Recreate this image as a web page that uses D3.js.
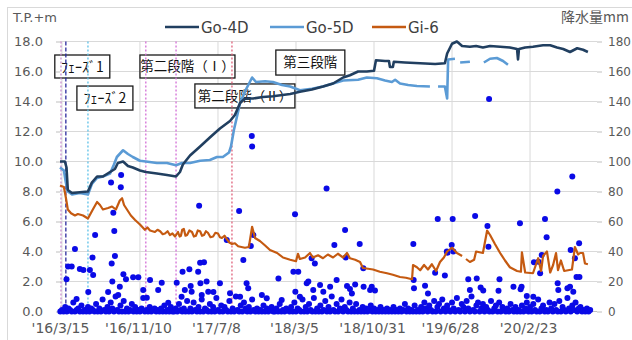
<!DOCTYPE html>
<html><head><meta charset="utf-8">
<script src="https://cdn.jsdelivr.net/npm/d3@7/dist/d3.min.js"></script>
<style>body{margin:0;background:#fff;} svg{display:block;}</style>
</head><body><svg id="c" width="632" height="340"></svg>
<script>
// ---------- DATA ----------
const startDate = "2016-03-15"; // day 0 of the day counts below
const xTickDates = ["2016-03-15","2016-11-10","2017-07-08","2018-03-05","2018-10-31","2019-06-28","2020-02-23"];
const xTickLabels = ["'16/3/15","'16/11/10","'17/7/8","'18/3/5","'18/10/31","'19/6/28","'20/2/23"];
const leftTicks = [0,2,4,6,8,10,12,14,16,18];
const rightTicks = [0,20,40,60,80,100,120,140,160,180];
const seriesNames = ["Go-4D","Go-5D","Gi-6"];

// [day since startDate, water level T.P.+m]
const go4d = [[-6,10.0],[9,10.0],[14,9.6],[18,8.1],[31,7.9],[55,7.95],[80,8.0],[92,8.6],[108,9.0],[126,9.0],[148,9.3],[163,9.5],[172,9.9],[188,10.0],[203,9.7],[218,9.6],[240,9.4],[258,9.3],[292,9.2],[323,9.1],[351,9.0],[363,9.3],[372,9.8],[394,10.4],[425,11.0],[455,11.6],[486,12.2],[517,12.7],[532,13.1],[548,13.9],[563,14.2],[588,14.2],[618,14.3],[649,14.35],[702,14.5],[732,14.65],[769,14.8],[803,15.0],[834,15.2],[865,15.6],[886,15.75],[911,16.0],[938,16.0],[960,16.05],[966,16.75],[994,16.7],[1006,16.7],[1009,16.3],[1018,16.3],[1021,16.65],[1055,16.6],[1102,16.55],[1148,16.5],[1178,16.55],[1185,17.2],[1200,17.85],[1215,18.0],[1231,17.7],[1255,17.65],[1274,17.7],[1295,17.6],[1317,17.7],[1348,17.65],[1378,17.6],[1400,17.5],[1403,16.8],[1406,17.5],[1425,17.6],[1449,17.65],[1480,17.75],[1502,17.75],[1523,17.6],[1542,17.5],[1563,17.3],[1585,17.55],[1603,17.45],[1618,17.3]];
const go5d = [[-6,9.6],[6,9.4],[12,8.6],[18,8.0],[31,7.8],[55,7.9],[80,7.8],[92,8.5],[108,8.9],[126,9.0],[148,9.2],[160,9.8],[169,10.3],[188,10.75],[203,10.5],[218,10.3],[240,10.05],[258,10.0],[292,9.9],[323,9.9],[351,9.75],[369,9.9],[394,9.9],[425,10.05],[455,10.1],[477,10.3],[495,10.3],[514,10.6],[520,11.0],[529,12.1],[548,13.9],[566,14.8],[578,15.3],[585,15.6],[597,15.3],[625,15.35],[649,15.3],[677,15.1],[702,15.0],[732,14.75],[769,14.85],[803,15.0],[834,15.2],[865,15.4],[911,15.45],[938,15.6],[969,15.55],[994,15.4],[1015,15.3],[1025,15.45],[1040,15.2],[1065,15.1],[1092,15.03],[1132,15.0],[1140,null],[1157,15.0],[1178,15.0],[1185,14.2],[1188,16.8],[1209,16.85],[1216,null],[1225,16.6],[1255,16.65],[1270,null],[1298,16.6],[1317,16.85],[1338,16.9],[1357,16.7],[1372,16.45]];
const gi6 = [[-6,8.4],[6,8.3],[12,7.6],[18,6.8],[28,6.55],[40,6.4],[49,6.5],[65,6.4],[80,6.2],[95,6.8],[108,7.3],[117,7.1],[126,6.8],[142,6.9],[154,7.0],[166,6.8],[178,7.4],[185,7.55],[191,7.1],[200,6.8],[212,6.4],[225,6.1],[240,5.8],[255,5.45],[263,5.6],[271,5.4],[286,5.3],[294,5.45],[302,5.35],[310,5.15],[317,5.2],[325,5.35],[332,5.1],[340,5.2],[348,5.0],[357,5.3],[362,5.0],[366,5.05],[370,5.45],[375,5.5],[380,5.05],[385,5.1],[392,5.4],[400,5.3],[406,5.0],[412,5.05],[418,5.4],[425,5.35],[431,5.05],[437,5.1],[443,5.35],[449,5.25],[457,4.95],[465,5.0],[472,5.25],[480,5.2],[486,4.95],[492,4.9],[500,5.05],[508,4.8],[515,4.6],[523,4.5],[532,4.55],[542,4.35],[552,4.3],[563,4.25],[575,4.3],[585,5.65],[594,4.9],[609,4.7],[625,4.4],[640,4.1],[662,3.9],[680,3.6],[702,3.45],[720,3.35],[726,3.85],[732,3.5],[748,3.6],[763,3.9],[772,3.6],[788,3.75],[803,3.55],[818,3.8],[834,3.6],[849,3.85],[865,3.6],[877,3.9],[886,3.55],[902,3.45],[917,3.3],[926,2.9],[942,2.85],[957,2.8],[978,2.65],[1000,2.55],[1018,2.45],[1040,2.3],[1058,2.25],[1077,2.15],[1080,3.1],[1092,2.95],[1102,2.75],[1114,3.1],[1126,2.8],[1138,3.15],[1151,2.7],[1163,3.3],[1175,3.6],[1185,4.0],[1200,4.25],[1215,3.9],[1231,3.7],[1237,null],[1243,3.5],[1255,3.3],[1268,3.45],[1274,4.0],[1295,3.9],[1308,5.4],[1317,5.1],[1332,4.5],[1348,3.9],[1363,3.4],[1378,2.95],[1400,2.7],[1412,2.65],[1415,3.95],[1425,2.6],[1449,2.55],[1465,3.55],[1474,2.7],[1480,3.7],[1492,4.0],[1502,2.6],[1511,3.1],[1520,3.9],[1526,2.75],[1535,3.4],[1545,2.7],[1557,2.75],[1569,2.8],[1578,4.3],[1588,3.8],[1594,3.9],[1603,3.9],[1609,3.2],[1618,3.15]];

// rainfall (mm): notable days [day, mm]
const rainPeaks = [[14,21.5],[19,30],[30,30],[40,41.7],[45,8.3],[55,28.3],[66,27.7],[81,13],[86,27.7],[94,36],[96,24.3],[102,51],[142,13],[151,86],[153,32],[155,20],[158,65.9],[161,53.7],[163,37],[173,11],[178,16.5],[181,82.8],[182,91],[189,24.8],[197,21.5],[219,22.8],[235,22.8],[250,14.3],[261,9.2],[271,21],[296,14.3],[307,19.2],[327,5.9],[353,19.2],[368,9.9],[371,26.5],[378,14.3],[392,28.1],[396,17],[399,13.2],[419,26.5],[422,70.5],[425,32.5],[426,18.8],[430,11],[437,32.8],[445,20],[450,13.2],[466,13],[486,18.8],[507,47.7],[517,12.1],[545,67],[548,9.9],[558,34.3],[568,18.8],[573,15.5],[581,43.7],[584,117],[585,110],[589,51],[615,11],[630,8.8],[666,22],[676,7.7],[712,26.5],[717,64.8],[718,13.2],[727,26.5],[732,9.9],[753,18.8],[758,20],[768,35.5],[773,14.3],[778,32],[794,17.7],[804,13.2],[814,82],[825,16.5],[838,44.3],[845,21],[871,54.3],[873,36],[877,17],[886,15],[892,12],[902,18],[916,45],[927,28.8],[928,16.5],[948,14.3],[953,16.5],[963,14],[1081,45],[1082,21],[1083,15.5],[1117,17.2],[1126,12],[1148,25.9],[1156,61.7],[1178,24],[1184,40],[1186,39.2],[1199,44.3],[1202,61.7],[1204,40],[1250,21.5],[1255,14.3],[1271,63.7],[1276,22],[1288,16],[1296,14],[1309,57],[1312,43.2],[1314,141.7],[1343,13.9],[1346,21.5],[1389,16.5],[1409,58.8],[1411,14.8],[1414,16.5],[1430,10.3],[1450,9.9],[1452,32.8],[1466,33.2],[1471,25.5],[1476,37.7],[1486,61.7],[1491,49.5],[1524,80],[1525,18.8],[1527,14.3],[1555,15.5],[1563,16.5],[1565,41],[1570,90],[1573,13.2],[1578,35.5],[1583,23],[1591,45.5],[1592,23]];
// rainfall (mm): small daily amounts, one value every 5 days from day -5
const rainLowFirstDay = -5, rainLowStep = 5;
const rainLow = [0,1,0,3,0,2,1,0,6,0,1,2,0,4,0,1,0,3,0,2,
1,0,5,0,2,0,8,1,0,3,0,6,2,0,10,1,0,4,0,7,
0,2,0,1,5,0,3,0,1,0,2,9,0,1,0,3,0,1,2,0,
1,0,2,0,4,0,1,0,3,0,0,2,0,5,1,0,2,0,7,0,
2,0,6,1,0,3,0,8,0,2,1,0,5,0,3,0,9,1,0,4,
0,3,1,0,7,0,2,0,10,1,0,4,0,6,2,0,3,0,8,1,
0,2,0,1,0,4,0,2,0,1,3,0,0,2,0,5,0,1,0,2,
1,0,3,0,6,0,2,1,0,8,0,3,0,5,1,0,9,0,2,0,
4,0,1,7,0,3,0,10,1,0,5,0,2,8,0,3,1,0,6,0,
2,0,5,0,1,0,3,0,2,0,1,4,0,2,0,1,0,3,0,1,
0,2,0,1,0,3,0,1,0,2,0,1,5,0,2,0,1,0,4,0,
1,0,3,0,6,2,0,4,1,0,7,0,3,5,0,8,2,0,4,1,
0,6,2,0,9,1,0,5,3,0,7,2,0,10,1,0,4,6,0,2,
5,0,3,1,0,7,0,2,4,0,6,0,3,1,0,2,0,5,1,0,
3,0,1,0,4,0,2,6,0,3,0,5,1,0,8,0,2,4,0,1,
0,6,2,0,5,1,0,7,0,3,1,0,9,2,0,4,1,6,0,2,
3,0,1,0,2,0,1];

// construction phase markers
const phaseDays = [-3,12,80,258,351,523];
const phaseColors = ["#c98fd0","#2b2b9e","#5bc0e8","#d36fd6","#d36fd6","#e0607a"];
const phaseDash = ["2,2","4,2","2,2","2,2","2,2","2,2"];
// annotation boxes: label, anchor [day, level]
const boxLabels = ["ﾌｪｰｽﾞ1","ﾌｪｰｽﾞ2","第二段階（Ⅰ）","第二段階（Ⅱ）","第三段階"];
const boxAnchors = [[-21.5,17.1],[46,15.03],[240,17.1],[409,15.17],[658,17.43]];
const boxSizes = [[55,23],[56,24],[95,23],[100,24],[69,25]];

// ---------- CHART ----------
const svg = d3.select("#c");
const t0 = d3.utcParse("%Y-%m-%d")(startDate);
const dd = d => d3.utcDay.offset(t0, d);
const plot = {l:60, r:597, t:41.5, b:311.5};
const x = d3.scaleUtc().domain([dd(-6), dd(1646)]).range([plot.l, plot.r]);
const yL = d3.scaleLinear().domain([0,18]).range([plot.b, plot.t]);
const yR = d3.scaleLinear().domain([0,180]).range([plot.b, plot.t]);
const font = "'DejaVu Sans', sans-serif";
const tickDates = xTickDates.map(d3.utcParse("%Y-%m-%d"));

svg.append("rect").attr("width",632).attr("height",340).attr("fill","#fff");
svg.append("rect").attr("x",7.5).attr("y",7.5).attr("width",660).attr("height",360)
  .attr("fill","none").attr("stroke","#d9d9d9");

// gridlines
svg.append("g").selectAll("line").data(leftTicks.filter(d=>d>0)).join("line")
  .attr("x1",plot.l).attr("x2",plot.r).attr("y1",d=>yL(d)).attr("y2",d=>yL(d))
  .attr("stroke","#d9d9d9").attr("stroke-width",1);
svg.append("g").selectAll("line").data(tickDates).join("line")
  .attr("x1",d=>x(d)).attr("x2",d=>x(d)).attr("y1",plot.t).attr("y2",plot.b)
  .attr("stroke","#d9d9d9").attr("stroke-width",1);

// annotation boxes
const bx = svg.append("g");
boxLabels.forEach((lab,i)=>{
  const X = x(dd(boxAnchors[i][0])), Y = yL(boxAnchors[i][1]);
  const [w,h] = boxSizes[i];
  bx.append("rect").attr("x",X).attr("y",Y).attr("width",w).attr("height",h)
    .attr("fill","#fff").attr("stroke","#1a1a1a").attr("stroke-width",1.3);
  bx.append("text").attr("x",X+w/2).attr("y",Y+h/2).attr("dy","0.36em")
    .attr("text-anchor","middle").attr("font-family","'Noto Sans CJK JP', sans-serif")
    .attr("font-size", i<2 ? 14 : 13.5).attr("fill","#111").text(lab);
});

// phase marker lines
svg.append("g").selectAll("line").data(phaseDays).join("line")
  .attr("x1",d=>x(dd(d))).attr("x2",d=>x(dd(d))).attr("y1",plot.t).attr("y2",plot.b)
  .attr("stroke",(d,i)=>phaseColors[i]).attr("stroke-width",1.3)
  .attr("stroke-dasharray",(d,i)=>phaseDash[i]);

// axes
const axL = svg.append("g").attr("transform",`translate(${plot.l},0)`)
  .call(d3.axisLeft(yL).tickValues(leftTicks).tickFormat(d3.format(".1f")).tickSize(4).tickPadding(13));
const axR = svg.append("g").attr("transform",`translate(${plot.r},0)`)
  .call(d3.axisRight(yR).tickValues(rightTicks).tickSize(5).tickPadding(6));
const axB = svg.append("g").attr("transform",`translate(0,${plot.b})`)
  .call(d3.axisBottom(x).tickValues(tickDates).tickFormat((d,i)=>xTickLabels[i]).tickSize(0).tickPadding(12));
[axL,axR,axB].forEach(a=>{
  a.selectAll("text").attr("font-family",font).attr("fill","#595959");
  a.selectAll(".tick line").attr("stroke","#bfbfbf");
  a.select(".domain").attr("stroke","none");
});
axL.selectAll("text").attr("font-size",13);
axR.selectAll("text").attr("font-size",12);
axB.selectAll("text").attr("font-size",14).attr("dx","-2");
svg.append("line").attr("x1",plot.l).attr("x2",plot.r).attr("y1",plot.b).attr("y2",plot.b)
  .attr("stroke","#bfbfbf");

// rainfall dots
const rainAll = rainLow.map((v,i)=>[rainLowFirstDay + i*rainLowStep, v]).concat(rainPeaks);
svg.append("g").selectAll("circle").data(rainAll).join("circle")
  .attr("cx",d=>x(dd(d[0]))).attr("cy",d=>yR(d[1])).attr("r",3)
  .attr("fill","#0a0ae6");

// level lines
const colors = {"Go-4D":"#213f60","Go-5D":"#5b9bd5","Gi-6":"#c55a11"};
const widths = {"Go-4D":2.6,"Go-5D":2.6,"Gi-6":2.2};
const line = d3.line().defined(d=>d[1]!==null).x(d=>x(dd(d[0]))).y(d=>yL(d[1]));
[["Gi-6",gi6],["Go-5D",go5d],["Go-4D",go4d]].forEach(([n,data])=>{
  svg.append("path").datum(data).attr("d",line).attr("fill","none")
    .attr("stroke",colors[n]).attr("stroke-width",widths[n]).attr("stroke-linejoin","round");
});

// axis titles
svg.append("text").attr("x",13).attr("y",22).attr("font-family",font).attr("font-size",13)
  .attr("fill","#595959").text("T.P.+m");
svg.append("text").attr("x",561).attr("y",22).attr("font-family","'Noto Sans CJK JP', sans-serif").attr("font-size",14)
  .attr("fill","#595959").text("降水量mm");

// legend
const legX = [165, 270, 372];
seriesNames.forEach((n,i)=>{
  svg.append("line").attr("x1",legX[i]).attr("x2",legX[i]+34).attr("y1",27).attr("y2",27)
    .attr("stroke",colors[n]).attr("stroke-width",2.6);
  svg.append("text").attr("x",legX[i]+36).attr("y",32.5).attr("font-family",font).attr("font-size",15)
    .attr("fill","#404040").text(n);
});
</script></body></html>
